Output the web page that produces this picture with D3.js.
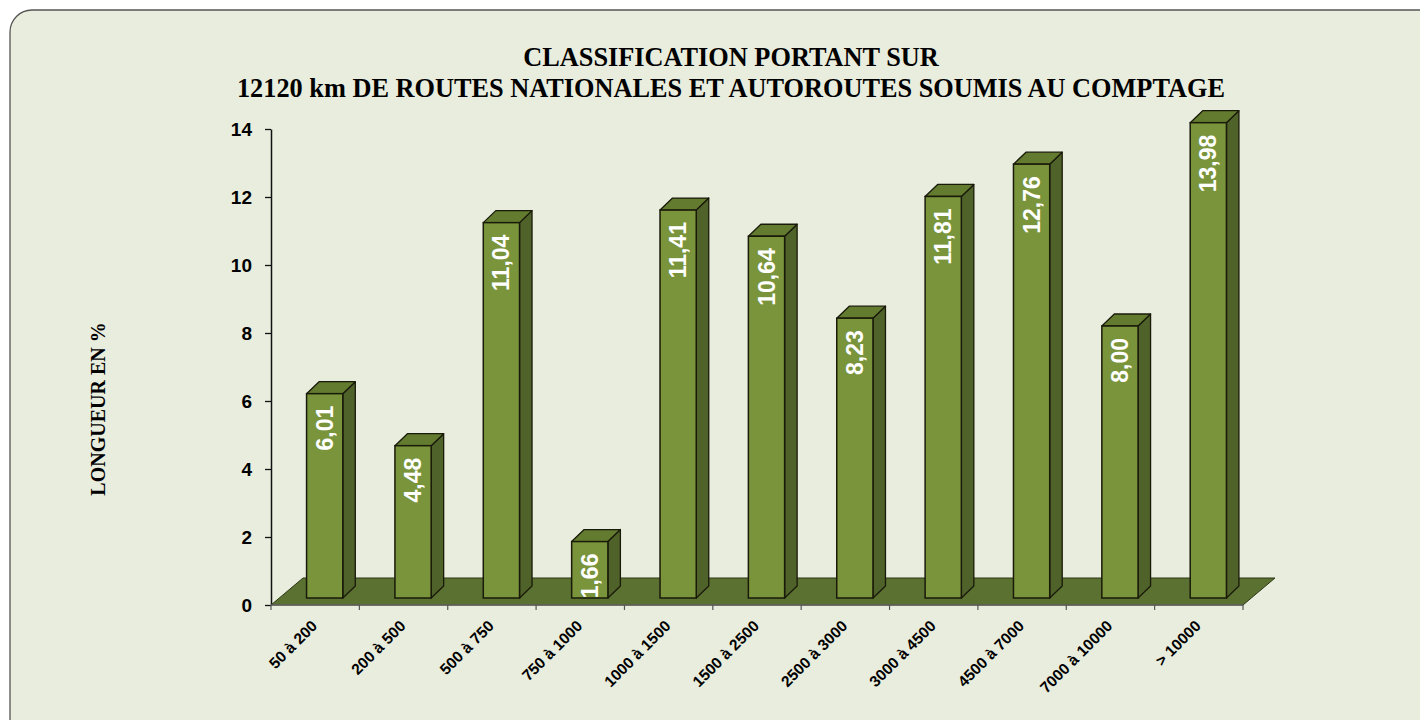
<!DOCTYPE html>
<html>
<head>
<meta charset="utf-8">
<script src="https://cdn.jsdelivr.net/npm/d3@7"></script>
<style>
  html, body { margin: 0; padding: 0; background: #ffffff; }
  svg { display: block; }
</style>
</head>
<body>
<svg id="chart" width="1420" height="720"></svg>
<script>
// ---- data ----
const categories = ["50 à 200", "200 à 500", "500 à 750", "750 à 1000", "1000 à 1500", "1500 à 2500",
  "2500 à 3000", "3000 à 4500", "4500 à 7000", "7000 à 10000", "> 10000"];
const values = [6.01, 4.48, 11.04, 1.66, 11.41, 10.64, 8.23, 11.81, 12.76, 8.00, 13.98];
const valueLabels = ["6,01", "4,48", "11,04", "1,66", "11,41", "10,64", "8,23", "11,81", "12,76", "8,00", "13,98"];
const yTicks = [0, 2, 4, 6, 8, 10, 12, 14];
const titleLines = ["CLASSIFICATION PORTANT SUR", "12120 km DE ROUTES NATIONALES ET AUTOROUTES SOUMIS AU COMPTAGE"];
const yTitle = "LONGUEUR EN %";

// ---- layout ----
const svg = d3.select("#chart");
const colors = { bg: "#E9EDDD", front: "#7A943C", side: "#4F6229", top: "#627B2F", floor: "#5B7131", line: "#1a1a0a" };

svg.append("rect").attr("x", 10).attr("y", 10).attr("width", 1440).attr("height", 740)
  .attr("rx", 22).attr("ry", 22).attr("fill", colors.bg).attr("stroke", "#555").attr("stroke-width", 1.3);

const x = d3.scaleBand().domain(categories).range([271, 1243]);
const y = d3.scaleLinear().domain([0, 14]).range([605, 129]);

const depth = { fx: 32, fy: -27 };   // floor depth
const bdepth = { dx: 12.5, dy: -12 }; // bar depth
const barShift = 9.5, barFrontOffset = -7;
const bw = x.bandwidth() * 0.41;

// floor
const x0 = x.range()[0], x1 = x.range()[1], y0 = y(0);
svg.append("polygon")
  .attr("points", [[x0, y0], [x1, y0], [x1 + depth.fx, y0 + depth.fy], [x0 + depth.fx, y0 + depth.fy]].map(p => p.join(",")).join(" "))
  .attr("fill", colors.floor).attr("stroke", "#2c3716").attr("stroke-width", 1);

// bars
const bars = svg.append("g").selectAll("g").data(categories).join("g");
bars.each(function (c, i) {
  const g = d3.select(this);
  const left = x(c) + x.bandwidth() / 2 - bw / 2 + barShift;
  const right = left + bw;
  const topY = y(values[i]) + barFrontOffset;
  const botY = y(0) + barFrontOffset;
  g.append("polygon")
    .attr("points", [[right, topY], [right + bdepth.dx, topY + bdepth.dy], [right + bdepth.dx, botY + bdepth.dy], [right, botY]].map(p => p.join(",")).join(" "))
    .attr("fill", colors.side).attr("stroke", colors.line).attr("stroke-width", 1.3).attr("stroke-linejoin", "round");
  g.append("polygon")
    .attr("points", [[left, topY], [left + bdepth.dx, topY + bdepth.dy], [right + bdepth.dx, topY + bdepth.dy], [right, topY]].map(p => p.join(",")).join(" "))
    .attr("fill", colors.top).attr("stroke", colors.line).attr("stroke-width", 1.3).attr("stroke-linejoin", "round");
  g.append("rect").attr("x", left).attr("y", topY).attr("width", bw).attr("height", botY - topY)
    .attr("fill", colors.front).attr("stroke", colors.line).attr("stroke-width", 1.5);
  g.append("text")
    .attr("transform", `translate(${left + bw / 2 + 8},${topY + 12}) rotate(-90)`)
    .attr("text-anchor", "end")
    .attr("font-family", "Arial, 'Liberation Sans', sans-serif").attr("font-weight", "bold").attr("font-size", 23)
    .attr("fill", "#ffffff")
    .text(valueLabels[i]);
});

// y axis
const yAxis = svg.append("g").attr("transform", `translate(${x0},0)`)
  .call(d3.axisLeft(y).tickValues(yTicks).tickSize(6).tickSizeOuter(0).tickPadding(13).tickFormat(d3.format("d")));
yAxis.select(".domain").attr("stroke", "#111").attr("stroke-width", 1.5);
yAxis.selectAll(".tick line").attr("stroke", "#111").attr("stroke-width", 1.3);
yAxis.selectAll(".tick text").attr("font-family", "Arial, 'Liberation Sans', sans-serif")
  .attr("font-weight", "bold").attr("font-size", 19).attr("fill", "#000");

// x axis line and boundary ticks
svg.append("line").attr("x1", x0).attr("x2", x1).attr("y1", y0).attr("y2", y0)
  .attr("stroke", "#666").attr("stroke-width", 1.3);
svg.append("g").selectAll("line").data(categories.concat(["__end"])).join("line")
  .attr("x1", (d, i) => x0 + i * x.step()).attr("x2", (d, i) => x0 + i * x.step())
  .attr("y1", y0).attr("y2", y0 + 5).attr("stroke", "#555").attr("stroke-width", 1.2);

// x labels
svg.append("g").selectAll("text").data(categories).join("text")
  .attr("transform", d => `translate(${x(d) + x.bandwidth() / 2 + 3},${627}) rotate(-45)`)
  .attr("text-anchor", "end")
  .attr("font-family", "Arial, 'Liberation Sans', sans-serif").attr("font-weight", "bold").attr("font-size", 15.5)
  .attr("fill", "#000")
  .text(d => d);

// title
svg.append("g").selectAll("text").data(titleLines).join("text")
  .attr("x", 731).attr("y", (d, i) => 66 + i * 31)
  .attr("text-anchor", "middle")
  .attr("font-family", "'Times New Roman', 'Liberation Serif', serif").attr("font-weight", "bold").attr("font-size", 26.3)
  .attr("fill", "#000")
  .text(d => d);

// y title
svg.append("text")
  .attr("transform", `translate(105,409) rotate(-90)`)
  .attr("text-anchor", "middle")
  .attr("font-family", "'Times New Roman', 'Liberation Serif', serif").attr("font-weight", "bold").attr("font-size", 20)
  .attr("fill", "#000")
  .text(yTitle);
</script>
</body>
</html>
